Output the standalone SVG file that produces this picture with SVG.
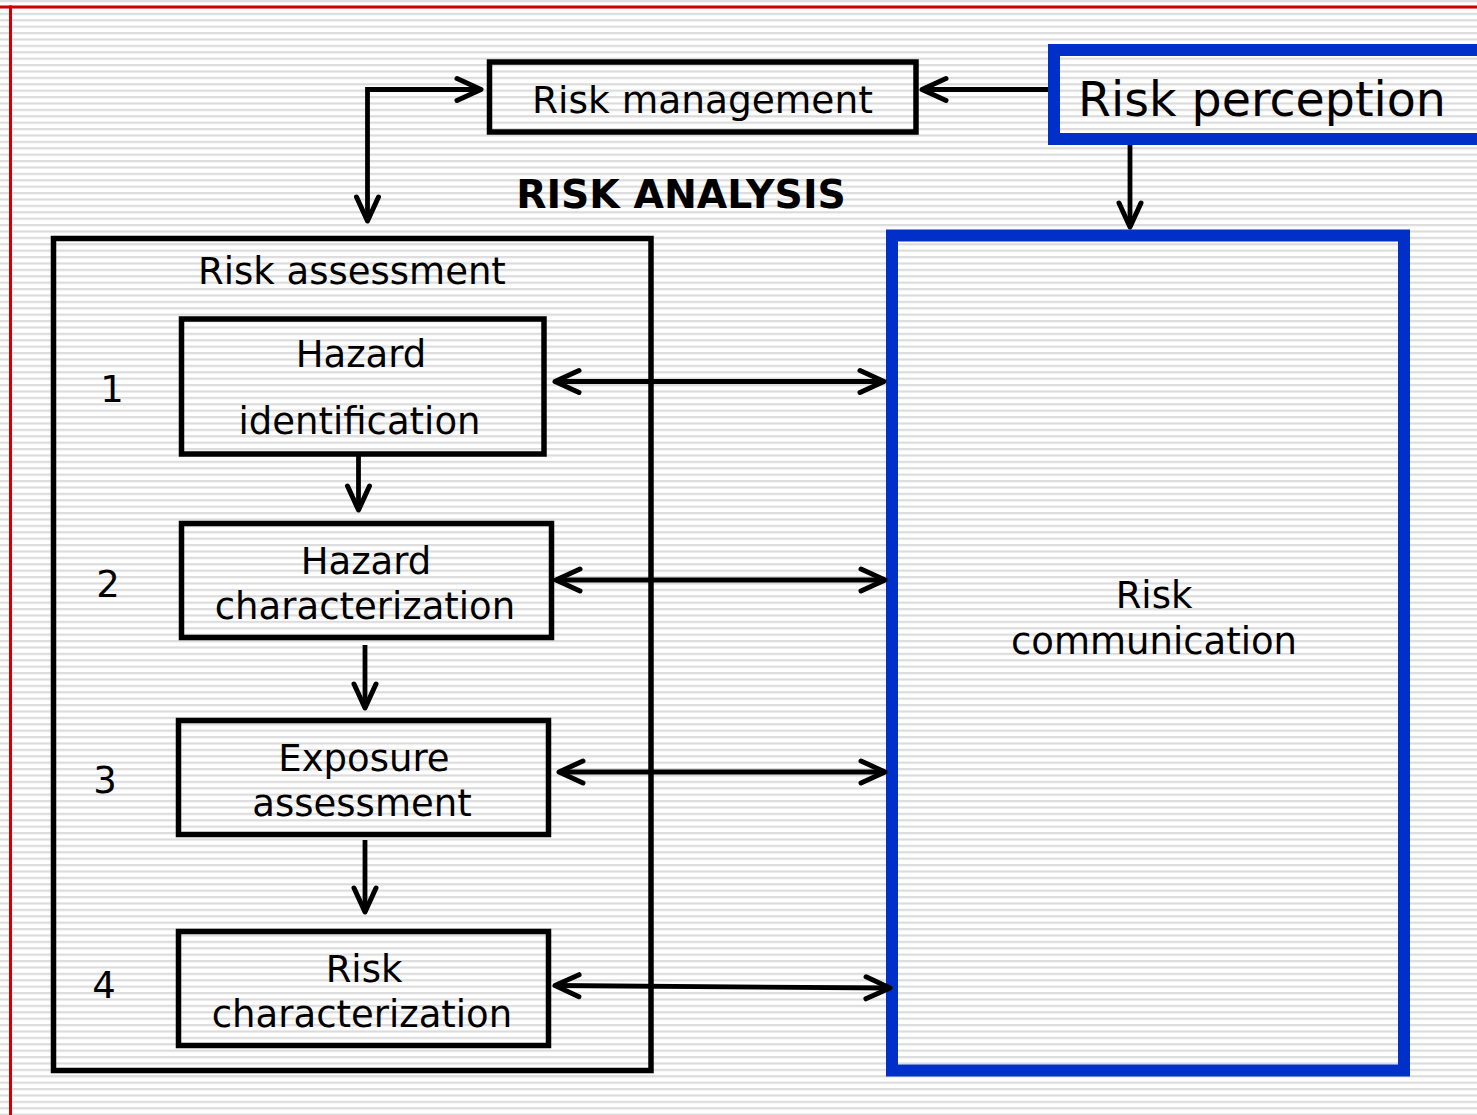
<svg xmlns="http://www.w3.org/2000/svg" width="1477" height="1115" viewBox="0 0 1477 1115">
<defs>
<pattern id="stripes" patternUnits="userSpaceOnUse" width="20" height="6.4">
<rect x="0" y="0" width="20" height="6.4" fill="#ffffff"/>
<rect x="0" y="0" width="20" height="2.2" fill="#dcdcdc"/>
</pattern>
<marker id="arr" markerUnits="userSpaceOnUse" markerWidth="40" markerHeight="40" viewBox="-30 -20 40 40" refX="0" refY="0" orient="auto-start-reverse">
<path d="M -24 -11 L 0 0 L -24 11" fill="none" stroke="#000" stroke-width="5" stroke-linecap="round" stroke-linejoin="round"/>
</marker>
<style>
.t{font-family:"DejaVu Sans","Verdana",sans-serif;font-size:37px;fill:#000;text-anchor:middle}
.box{fill:none;stroke:#000;stroke-width:5.5}
.blue{fill:none;stroke:#0030c8;stroke-width:12}
.c{fill:none;stroke:#000;stroke-width:4.8;marker-end:url(#arr)}
.d{marker-start:url(#arr)}
</style>
</defs>
<rect x="0" y="0" width="1477" height="1115" fill="url(#stripes)"/>
<g id="frame">
<line x1="0" y1="7" x2="1477" y2="7" stroke="#d00000" stroke-width="3"/>
<line x1="10.5" y1="5.5" x2="10.5" y2="1115" stroke="#d00000" stroke-width="3"/>
</g>
<g id="risk-management">
<rect class="box" x="489.5" y="62" width="426.5" height="70"/>
<text class="t" x="702.5" y="112.5" style="font-size:37.5px">Risk management</text>
</g>
<g id="risk-perception">
<rect class="blue" x="1054" y="50" width="460" height="89"/>
<text class="t" x="1078" y="115.5" style="font-size:47.5px;text-anchor:start">Risk perception</text>
</g>
<g id="risk-analysis-label">
<text class="t" x="681" y="207.5" style="font-size:39.3px;font-weight:bold">RISK ANALYSIS</text>
</g>
<g id="risk-assessment">
<rect class="box" x="53.5" y="238.5" width="597.5" height="832"/>
<text class="t" x="352" y="284">Risk assessment</text>
</g>
<g id="hazard-identification">
<rect class="box" x="181.5" y="319" width="362.5" height="135"/>
<text class="t" x="361" y="367">Hazard</text>
<text class="t" x="359.5" y="434">identification</text>
<text class="t" x="112" y="402">1</text>
</g>
<g id="hazard-characterization">
<rect class="box" x="181.5" y="523.5" width="370" height="114"/>
<text class="t" x="366" y="574">Hazard</text>
<text class="t" x="365" y="618.5">characterization</text>
<text class="t" x="108" y="597">2</text>
</g>
<g id="exposure-assessment">
<rect class="box" x="178.5" y="720.5" width="370" height="114"/>
<text class="t" x="364" y="770.5">Exposure</text>
<text class="t" x="362" y="816">assessment</text>
<text class="t" x="105" y="792.5">3</text>
</g>
<g id="risk-characterization">
<rect class="box" x="178.5" y="931.5" width="370" height="114"/>
<text class="t" x="364" y="981.5">Risk</text>
<text class="t" x="362" y="1026.5">characterization</text>
<text class="t" x="104" y="997.5">4</text>
</g>
<g id="risk-communication">
<rect class="blue" x="892" y="235.5" width="512" height="835"/>
<text class="t" x="1154" y="608">Risk</text>
<text class="t" x="1154" y="653.5">communication</text>
</g>
<g id="connectors">
<path class="c d" d="M 367.5 221 L 367.5 89.5 L 481 89.5" stroke-linejoin="miter"/>
<path class="c" d="M 1048 89.5 L 922 89.5"/>
<path class="c" d="M 1130 145 L 1130 227"/>
<path class="c" d="M 358.5 456 L 358.5 510"/>
<path class="c" d="M 365 645 L 365 708"/>
<path class="c" d="M 365 840 L 365 912"/>
<path class="c d" d="M 555 381.5 L 884 381.5"/>
<path class="c d" d="M 556 580 L 885 580"/>
<path class="c d" d="M 559 772 L 885 772"/>
<path class="c d" d="M 555 985.5 L 890 988"/>
</g>
</svg>
